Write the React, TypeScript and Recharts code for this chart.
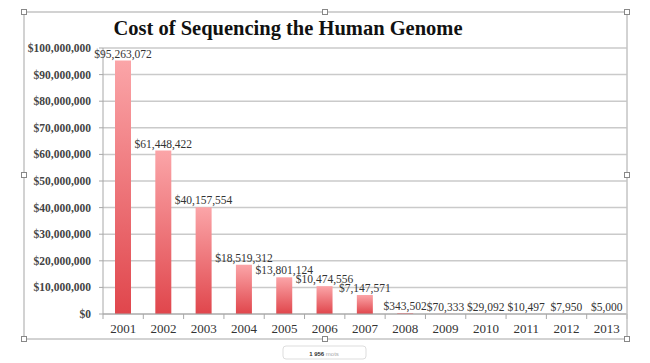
import React from "react";
import {
  BarChart,
  Bar,
  XAxis,
  YAxis,
  CartesianGrid,
  LabelList,
} from "recharts";

const years = ["2001", "2002", "2003", "2004", "2005", "2006", "2007", "2008", "2009", "2010", "2011", "2012", "2013"];
const costs = [95263072, 61448422, 40157554, 18519312, 13801124, 10474556, 7147571, 343502, 70333, 29092, 10497, 7950, 5000];
const yTicks = [0, 10000000, 20000000, 30000000, 40000000, 50000000, 60000000, 70000000, 80000000, 90000000, 100000000];

const data = years.map((year, i) => ({ year, cost: costs[i] }));

const SERIF = "'Liberation Serif', 'DejaVu Serif', serif";
const money = (v: number) => "$" + v.toLocaleString("en-US");

const HALF_BAND = (627 - 103) / years.length / 2;

// ticks sit between categories, like the original spreadsheet chart
const YearTick = (props: any) => {
  const { x, y, payload, index } = props;
  const axisY = y - 8;
  return (
    <g>
      <line x1={x - HALF_BAND} x2={x - HALF_BAND} y1={axisY} y2={axisY + 5} stroke="#a8a8a8" />
      {index === years.length - 1 && (
        <line x1={x + HALF_BAND} x2={x + HALF_BAND} y1={axisY} y2={axisY + 5} stroke="#a8a8a8" />
      )}
      <text x={x} y={axisY + 19} textAnchor="middle" fontFamily={SERIF} fontSize={13} fill="#333">
        {payload.value}
      </text>
    </g>
  );
};

const Handle = ({ x, y }: { x: number; y: number }) => (
  <rect x={x - 2.5} y={y - 2.5} width={5} height={5} fill="#fff" stroke="#888" strokeWidth={1} />
);

export default function App() {
  return (
    <div style={{ position: "fixed", left: 0, top: 0, width: 650, height: 363, background: "#fff" }}>
      <BarChart
        width={650}
        height={363}
        data={data}
        margin={{ top: 48, right: 23, bottom: 0, left: 0 }}
      >
        <defs>
          <linearGradient id="barFill" x1="0" y1="0" x2="0" y2="1">
            <stop offset="0%" stopColor="#fba5a8" />
            <stop offset="100%" stopColor="#e0464c" />
          </linearGradient>
        </defs>
        <CartesianGrid vertical={false} stroke="#cacaca" strokeWidth={1.5} />
        <XAxis
          dataKey="year"
          height={49}
          stroke="#a8a8a8"
          tickLine={false}
          tickSize={0}
          tickMargin={8}
          interval={0}
          tick={<YearTick />}
        />
        <YAxis
          width={103}
          domain={[0, 100000000]}
          ticks={yTicks}
          interval={0}
          tickFormatter={money}
          stroke="#a8a8a8"
          tickSize={4}
          tickMargin={8}
          tick={{ fontFamily: SERIF, fontSize: 11.5, fontWeight: "bold", fill: "#444" }}
        />
        <Bar dataKey="cost" fill="url(#barFill)" barSize={16} isAnimationActive={false}>
          <LabelList
            dataKey="cost"
            position="top"
            offset={3}
            formatter={(v: any) => money(Number(v))}
            style={{ fontFamily: SERIF, fontSize: 11.5, fill: "#333" }}
          />
        </Bar>
      </BarChart>
      <svg width={650} height={363} style={{ position: "absolute", left: 0, top: 0, pointerEvents: "none" }}>
        <rect x={24} y={12} width={603} height={327} fill="none" stroke="#c4c4c4" strokeWidth={1.5} />
        <Handle x={24} y={12} />
        <Handle x={325} y={12} />
        <Handle x={627} y={12} />
        <Handle x={24} y={175} />
        <Handle x={627} y={175} />
        <Handle x={24} y={339} />
        <Handle x={325} y={339} />
        <Handle x={627} y={339} />
        <text x={288} y={35} textAnchor="middle" fontFamily={SERIF} fontSize={20.5} fontWeight="bold" fill="#111">
          Cost of Sequencing the Human Genome
        </text>
        <rect x={283} y={346} width={83} height={13} rx={3} fill="#fff" stroke="#ddd" />
        <text x={324} y={355.5} textAnchor="middle" fontFamily="'Liberation Sans', sans-serif" fontSize={6} fill="#aaa">
          <tspan fontWeight="bold" fill="#333">1 956</tspan> mots
        </text>
      </svg>
    </div>
  );
}
